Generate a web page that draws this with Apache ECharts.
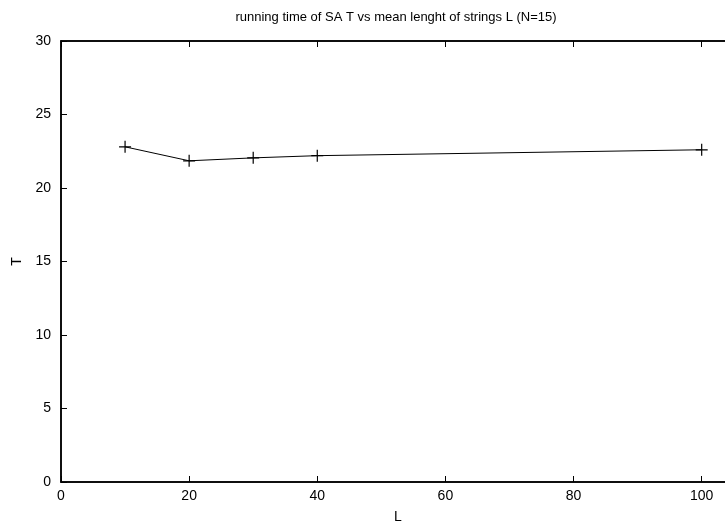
<!DOCTYPE html>
<html lang="en">
<head>
  <meta charset="UTF-8">
  <title>running time of SA</title>
  <style>
    html, body { margin: 0; padding: 0; background: #fff; }
    #main { width: 725px; height: 524px; }
  </style>
</head>
<body>
<div id="main"></div>
<script src="https://cdn.jsdelivr.net/npm/echarts@6/dist/echarts.min.js"></script>
<script>
  // data
  var lengths = [10, 20, 30, 40, 100];
  var times = [22.8, 21.85, 22.05, 22.2, 22.6];
  var xTicks = [0, 20, 40, 60, 80, 100];
  var yTicks = [0, 5, 10, 15, 20, 25, 30];

  var points = [];
  for (var i = 0; i < lengths.length; i++) {
    points.push([lengths[i], times[i]]);
  }

  var font = 'Liberation Sans, Arial, sans-serif';
  var cross = 'path://M5 0L5 10M0 5L10 5';
  // plot box runs past the right edge of the window, like the original
  var xMax = 105.2;

  function tick() {
    return { show: true, inside: true, length: 6, lineStyle: { color: '#000', width: 1 } };
  }
  function line() {
    return { show: true, onZero: false, lineStyle: { color: '#000', width: 1.5 } };
  }

  var chart = echarts.init(document.getElementById('main'));
  chart.setOption({
    animation: false,
    title: {
      text: 'running time of SA T vs mean lenght of strings L (N=15)',
      left: 391, top: 6, textAlign: 'center',
      textStyle: { fontFamily: font, fontSize: 13, fontWeight: 'normal', color: '#000' }
    },
    grid: {
      left: 61, top: 41, right: -10, bottom: 42,
      outerBoundsMode: 'none', containLabel: false,
      show: true, borderColor: '#000', borderWidth: 1.5, backgroundColor: 'transparent'
    },
    xAxis: [{
      type: 'value', min: 0, max: xMax, interval: 20,
      name: 'L', nameLocation: 'middle', nameGap: 28,
      nameTextStyle: { fontFamily: font, fontSize: 14, color: '#000' },
      axisLine: line(),
      axisTick: tick(),
      axisLabel: {
        fontFamily: font, fontSize: 14, color: '#000', margin: 7,
        formatter: function (v) { return xTicks.indexOf(v) >= 0 ? String(v) : ''; }
      },
      splitLine: { show: false }
    }, {
      type: 'value', position: 'top', min: 0, max: xMax, interval: 20,
      axisLine: line(),
      axisTick: tick(),
      axisLabel: { show: false },
      splitLine: { show: false }
    }],
    yAxis: [{
      type: 'value', min: 0, max: 30, interval: 5,
      name: 'T', nameLocation: 'middle', nameGap: 36,
      nameTextStyle: { fontFamily: font, fontSize: 14, color: '#000' },
      axisLine: line(),
      axisTick: tick(),
      axisLabel: {
        fontFamily: font, fontSize: 14, color: '#000', margin: 10,
        formatter: function (v) { return yTicks.indexOf(v) >= 0 ? String(v) : ''; }
      },
      splitLine: { show: false }
    }, {
      type: 'value', position: 'right', min: 0, max: 30, interval: 5,
      axisLine: line(),
      axisTick: tick(),
      axisLabel: { show: false },
      splitLine: { show: false }
    }],
    series: [{
      type: 'line',
      data: points,
      symbol: cross,
      symbolSize: 12,
      showAllSymbol: true,
      itemStyle: { color: 'transparent', borderColor: '#000', borderWidth: 1.2 },
      lineStyle: { color: '#000', width: 1 }
    }]
  });
</script>
</body>
</html>
